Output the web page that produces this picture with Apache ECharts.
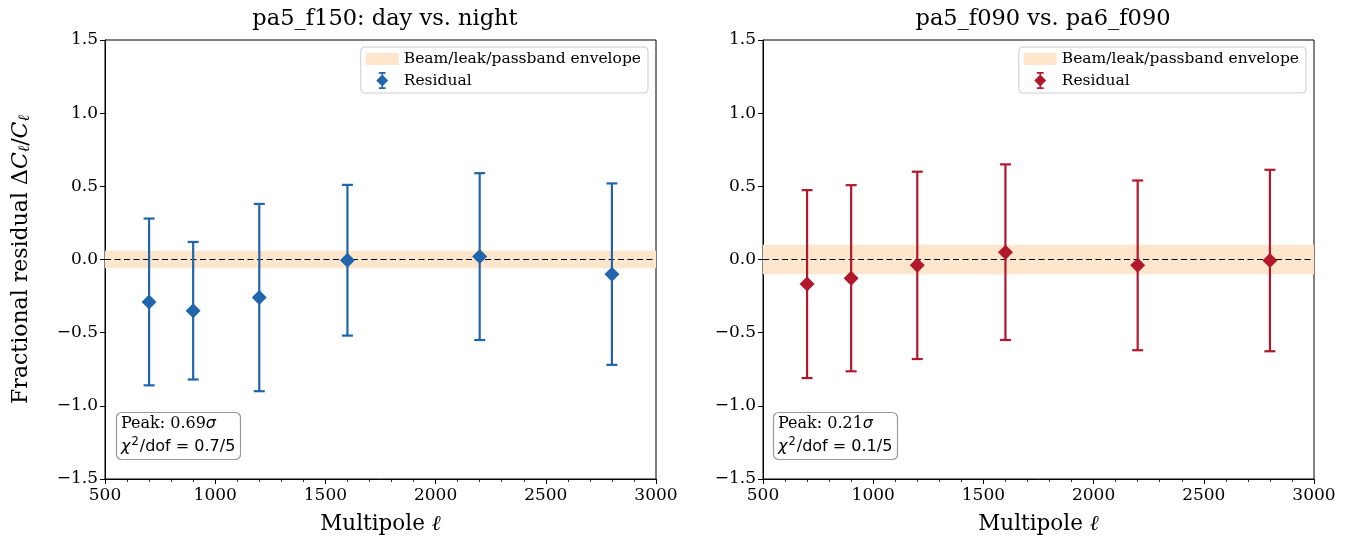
<!DOCTYPE html>
<html><head><meta charset="utf-8">
<script src="https://cdn.jsdelivr.net/npm/echarts@6/dist/echarts.min.js"></script>
<style>html,body{margin:0;padding:0;background:#fff}#c{width:1356px;height:540px}</style>
</head><body><div id="c"></div>
<script>
// ---- data ----
const ell = [700, 900, 1200, 1600, 2200, 2800];
const resA = [-0.29, -0.35, -0.26, -0.005, 0.02, -0.10];
const errA = [0.57, 0.47, 0.64, 0.515, 0.57, 0.62];
const resB = [-0.168, -0.128, -0.04, 0.05, -0.04, -0.007];
const errB = [0.642, 0.636, 0.64, 0.60, 0.58, 0.62];
const bandA = 0.06;
const bandB = 0.10;
const titles = ['pa5_f150: day vs. night', 'pa5_f090 vs. pa6_f090'];
const peaks = ['0.69', '0.21'];
const chis = ['0.7/5', '0.1/5'];
const xMin = 500, xMax = 3000, xStep = 500;
const yMin = -1.5, yMax = 1.5, yStep = 0.5;

const SERIF = 'DejaVu Serif';
const SANS = 'DejaVu Sans';
const BLUE = '#2166ac';
const RED = '#b2182b';
const BAND = '#fee6cd';
const colors = [BLUE, RED];

const grids = [
  {left: 105, right: 700, top: 40, bottom: 61},
  {left: 763, right: 42, top: 40, bottom: 61}
];

const bandIcon = 'path://M0,0 H33 V12 H0 Z';
const resIcon = 'path://M6,0 H14 V2 H11 V18 H14 V20 H6 V18 H9 V2 H6 Z M10,3 L17,10 L10,17 L3,10 Z';

function xAxis(i) {
  return {
    type: 'value', gridIndex: i, min: xMin, max: xMax, interval: xStep,
    axisLine: {show: true, onZero: false, lineStyle: {color: '#000', width: 1}},
    axisTick: {show: true, length: 5, lineStyle: {color: '#000', width: 1}},
    minorTick: {show: true, splitNumber: 5, length: 3, lineStyle: {color: '#000', width: 0.8}},
    splitLine: {show: false},
    axisLabel: {color: '#000', fontFamily: SERIF, fontSize: 17, margin: 8, formatter: v => String(v)},
    name: '{a|Multipole }{b|ℓ}', nameLocation: 'middle', nameGap: 34,
    nameTextStyle: {rich: {
      a: {fontFamily: SERIF, fontSize: 21.5, color: '#000'},
      b: {fontFamily: SERIF, fontSize: 21.5, fontStyle: 'italic', color: '#000'}
    }}
  };
}
function yAxis(i) {
  const ax = {
    type: 'value', gridIndex: i, min: yMin, max: yMax, interval: yStep,
    axisLine: {show: true, onZero: false, lineStyle: {color: '#000', width: 1}},
    axisTick: {show: true, length: 5, lineStyle: {color: '#000', width: 1}},
    splitLine: {show: false},
    axisLabel: {color: '#000', fontFamily: SERIF, fontSize: 17, margin: 7,
      formatter: v => (v < 0 ? '\u2212' : '') + Math.abs(v).toFixed(1)}
  };
  if (i === 0) {
    ax.name = '{a|Fractional residual Δ}{i|C}{s|ℓ}{a|/}{i|C}{s|ℓ}';
    ax.nameLocation = 'middle';
    ax.nameGap = 72;
    ax.nameRotate = 90;
    ax.nameTextStyle = {rich: {
      a: {fontFamily: SERIF, fontSize: 22, color: '#000'},
      i: {fontFamily: SERIF, fontSize: 22, fontStyle: 'italic', color: '#000'},
      s: {fontFamily: SERIF, fontSize: 15.5, fontStyle: 'italic', color: '#000', padding: [8, 0, 0, 0]}
    }};
  }
  return ax;
}

function bandSeries(i, b) {
  return {
    type: 'custom', name: 'Beam/leak/passband envelope', xAxisIndex: i, yAxisIndex: i,
    data: [[b]], silent: true, z: 1,
    renderItem: function (params, api) {
      const v = api.value(0);
      const p1 = api.coord([xMin, v]);
      const p2 = api.coord([xMax, -v]);
      const z1 = api.coord([xMin, 0]);
      const z2 = api.coord([xMax, 0]);
      return {type: 'group', children: [
        {type: 'rect', shape: {x: p1[0], y: p1[1], width: p2[0] - p1[0], height: p2[1] - p1[1]},
         style: {fill: BAND}},
        {type: 'line', shape: {x1: z1[0], y1: z1[1], x2: z2[0], y2: z2[1]},
         style: {stroke: '#000', lineWidth: 1.2, lineDash: [6, 3.5]}}
      ]};
    }
  };
}
function errSeries(i, res, err, color) {
  return {
    type: 'custom', name: 'Residual', xAxisIndex: i, yAxisIndex: i, silent: true, z: 3,
    data: ell.map((x, k) => [x, res[k] - err[k], res[k] + err[k]]),
    encode: {x: 0, y: [1, 2]},
    renderItem: function (params, api) {
      const x = api.value(0);
      const lo = api.coord([x, api.value(1)]);
      const hi = api.coord([x, api.value(2)]);
      const cw = 5.5;
      const st = {stroke: color, lineWidth: 2.2};
      return {type: 'group', children: [
        {type: 'line', shape: {x1: hi[0], y1: hi[1], x2: lo[0], y2: lo[1]}, style: st},
        {type: 'line', shape: {x1: hi[0] - cw, y1: hi[1], x2: hi[0] + cw, y2: hi[1]}, style: st},
        {type: 'line', shape: {x1: lo[0] - cw, y1: lo[1], x2: lo[0] + cw, y2: lo[1]}, style: st}
      ]};
    }
  };
}
function ptSeries(i, res, color) {
  return {
    type: 'scatter', name: 'Residual', xAxisIndex: i, yAxisIndex: i, silent: true, z: 4,
    symbol: 'diamond', symbolSize: [15, 15],
    itemStyle: {color: color, opacity: 1},
    data: ell.map((x, k) => [x, res[k]])
  };
}
function legend(i, right) {
  return {
    right: right, top: 47, orient: 'vertical', selectedMode: false,
    backgroundColor: '#fff', borderColor: '#cccccc', borderWidth: 1, borderRadius: 4,
    padding: [4, 7, 4, 5], itemWidth: 33, itemHeight: 17, itemGap: 5,
    textStyle: {fontFamily: SERIF, fontSize: 15.5, color: '#000'},
    data: [
      {name: 'Beam/leak/passband envelope', icon: bandIcon, itemStyle: {color: BAND}},
      {name: 'Residual', icon: resIcon, itemStyle: {color: colors[i]}}
    ]
  };
}
function statBox(i, left) {
  return {
    left: left, top: 409,
    text: '{s|Peak: ' + peaks[i] + '}{g|σ}\n{g|χ}{p|2}{m|/dof = ' + chis[i] + '}',
    backgroundColor: '#fff', borderColor: '#999', borderWidth: 1.2, borderRadius: 5,
    padding: [3, 5, 3, 5],
    textStyle: {fontWeight: 'normal', rich: {
      s: {fontFamily: SERIF, fontSize: 16, fontWeight: 'normal', color: '#000', lineHeight: 23},
      g: {fontFamily: SANS, fontSize: 16, fontWeight: 'normal', fontStyle: 'italic', color: '#000', lineHeight: 23},
      m: {fontFamily: SANS, fontSize: 16, fontWeight: 'normal', color: '#000', lineHeight: 23},
      p: {fontFamily: SANS, fontSize: 11.5, fontWeight: 'normal', color: '#000', lineHeight: 23, padding: [0, 1, 9, 1]}
    }}
  };
}

const chart = echarts.init(document.getElementById('c'), null, {renderer: 'canvas'});
chart.setOption({
  backgroundColor: '#fff',
  animation: false,
  title: [
    {text: titles[0], left: 380, top: 3, textAlign: 'center',
     textStyle: {fontFamily: SERIF, fontSize: 22.5, fontWeight: 'normal', color: '#000'}},
    {text: titles[1], left: 1038, top: 3, textAlign: 'center',
     textStyle: {fontFamily: SERIF, fontSize: 22.5, fontWeight: 'normal', color: '#000'}},
    statBox(0, 116),
    statBox(1, 773)
  ],
  legend: [legend(0, 708), legend(1, 50)],
  grid: grids.map(g => Object.assign({show: true, borderColor: '#000', borderWidth: 1, backgroundColor: 'transparent'}, g)),
  xAxis: [xAxis(0), xAxis(1)],
  yAxis: [yAxis(0), yAxis(1)],
  series: [
    bandSeries(0, bandA), errSeries(0, resA, errA, BLUE), ptSeries(0, resA, BLUE),
    bandSeries(1, bandB), errSeries(1, resB, errB, RED), ptSeries(1, resB, RED)
  ]
});
</script></body></html>
